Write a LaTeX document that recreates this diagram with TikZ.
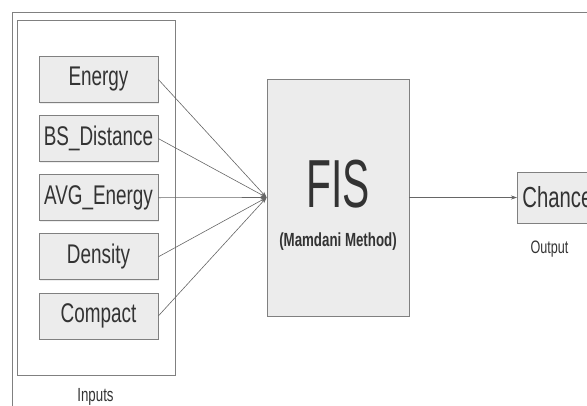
\documentclass[tikz,border=0pt]{standalone}
\usepackage{fontspec}
\setmainfont{Liberation Sans}[FakeStretch=0.7]
\newfontfamily\fisfont{Liberation Sans}[FakeStretch=0.6]
\usetikzlibrary{arrows.meta,shadows}

\begin{document}
\begin{tikzpicture}[x=1pt,y=-1pt,
		box/.style={draw=gray,fill=gray!15,line width=0.8pt,text=black!80,
			drop shadow={shadow xshift=1.2pt,shadow yshift=-1.2pt,fill=gray!25}},
		inbox/.style={box,minimum width=119,minimum height=46,
			font=\fontsize{27}{30}\selectfont},
		conn/.style={draw=black!60,line width=0.6pt},
		lbl/.style={text=black!80,inner sep=0pt,anchor=base}]
			\useasboundingbox (0,0) rectangle (587,405);
			\draw[gray,line width=0.8pt] (12,430) -- (12,12) -- (600,12);
			% inputs
			\node[box,fill=white,minimum width=158,minimum height=355] (inputs) at (96,197.5) {};
			\foreach \nm/\txt [count=\i from 0] in
				{en/Energy, bs/BS\_Distance, avg/AVG\_Energy, den/Density, com/Compact}
				\node[inbox] (\nm) at (98.5,79.5+59.1*\i) {\txt};
			\node[lbl,font=\fontsize{19}{21}\selectfont] (inlbl) at (95.5,401) {Inputs};
			% fuzzy system
			\node[box,minimum width=142,minimum height=237] (fis) at (338,197.5) {};
			\node[lbl,font=\fisfont\fontsize{68}{70}\selectfont] (fistxt) at (338,207) {FIS};
			\node[lbl,font=\bfseries\fontsize{19}{21}\selectfont] (mam) at (338,246.5)
				{(Mamdani Method)};
			% output
			\node[box,anchor=west,minimum width=80,minimum height=51,
				font=\fontsize{29}{31}\selectfont] (chance) at (517,197.5) {Chance};
			\node[lbl,font=\fontsize{18}{20}\selectfont] (outlbl) at (549.5,253) {Output};
			\foreach \nm in {en,bs,avg,den,com}
				\draw[conn,-{Stealth[length=6pt,width=4pt]}] (\nm.east) -- (fis.west);
			\draw[conn,-{Stealth[length=6pt,width=4pt]}] (fis.east) -- (chance.west);
		\end{tikzpicture}
\end{document}
